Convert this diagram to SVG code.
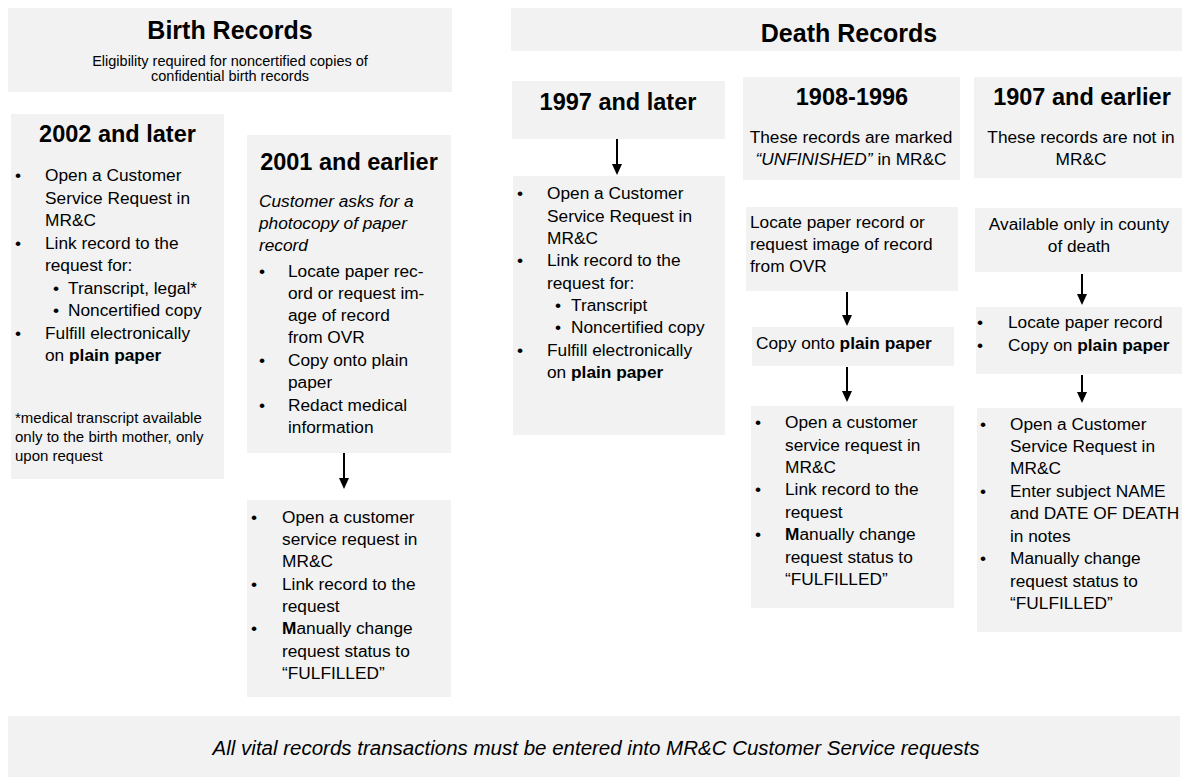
<svg xmlns="http://www.w3.org/2000/svg" width="1185" height="777" viewBox="0 0 1185 777">
<style>
  .box{fill:#f2f2f2;stroke:none}
  text{font-family:"Liberation Sans",Arial,sans-serif;fill:#000}
  .h1{font-size:25px;font-weight:bold;text-anchor:middle}
  .h2{font-size:23.5px;font-weight:bold;text-anchor:middle}
  .t{font-size:17.3px}
  .c{text-anchor:middle}
  .sub{font-size:14.5px;text-anchor:middle}
  .note{font-size:15px}
  .it{font-style:italic}
  .b{font-weight:bold}
  .foot{font-size:20.5px;font-style:italic;text-anchor:middle}
  .arrow{stroke:#000;stroke-width:2;fill:none;marker-end:url(#ah)}
</style>
<defs>
  <marker id="ah" markerUnits="userSpaceOnUse" markerWidth="11" markerHeight="10" refX="7" refY="5" orient="auto" viewBox="0 0 11 10">
    <path d="M0,0 L11,5 L0,10 Z" fill="#000"/>
  </marker>
</defs>
<rect width="1185" height="777" fill="#fff"/>

<g id="birth-header">
  <rect class="box" x="8" y="8" width="444" height="84"/>
  <text class="h1" x="230" y="39">Birth Records</text>
  <text class="sub" x="230" y="66">Eligibility required for noncertified copies of</text>
  <text class="sub" x="230" y="81">confidential birth records</text>
</g>

<g id="birth-2002">
  <rect class="box" x="11" y="114" width="213" height="365"/>
  <text class="h2" x="117.5" y="142">2002 and later</text>
  <g class="t">
    <text x="15" y="181">•</text><text x="45" y="181">Open a Customer</text>
    <text x="45" y="203.5">Service Request in</text>
    <text x="45" y="226">MR&amp;C</text>
    <text x="15" y="248.5">•</text><text x="45" y="248.5">Link record to the</text>
    <text x="45" y="271">request for:</text>
    <text x="53" y="293.5">•</text><text x="68" y="293.5">Transcript, legal*</text>
    <text x="53" y="316">•</text><text x="68" y="316">Noncertified copy</text>
    <text x="15" y="338.5">•</text><text x="45" y="338.5">Fulfill electronically</text>
    <text x="45" y="361">on <tspan class="b">plain paper</tspan></text>
  </g>
  <g class="note">
    <text x="15" y="423">*medical transcript available</text>
    <text x="15" y="442">only to the birth mother, only</text>
    <text x="15" y="461">upon request</text>
  </g>
</g>

<g id="birth-2001">
  <rect class="box" x="247" y="135" width="204" height="318"/>
  <text class="h2" x="349" y="170">2001 and earlier</text>
  <g class="t">
    <text class="it" x="259" y="207">Customer asks for a</text>
    <text class="it" x="259" y="229">photocopy of paper</text>
    <text class="it" x="259" y="251">record</text>
    <text x="259" y="277">•</text><text x="288" y="277">Locate paper rec-</text>
    <text x="288" y="299">ord or request im-</text>
    <text x="288" y="321">age of record</text>
    <text x="288" y="343">from OVR</text>
    <text x="259" y="366">•</text><text x="288" y="366">Copy onto plain</text>
    <text x="288" y="388">paper</text>
    <text x="259" y="411">•</text><text x="288" y="411">Redact medical</text>
    <text x="288" y="433">information</text>
  </g>
</g>

<g id="birth-2001-steps">
  <rect class="box" x="247" y="500" width="204" height="197"/>
  <g class="t">
    <text x="251" y="523">•</text><text x="282" y="523">Open a customer</text>
    <text x="282" y="545">service request in</text>
    <text x="282" y="567">MR&amp;C</text>
    <text x="251" y="589.5">•</text><text x="282" y="589.5">Link record to the</text>
    <text x="282" y="612">request</text>
    <text x="251" y="634">•</text><text x="282" y="634"><tspan class="b">M</tspan>anually change</text>
    <text x="282" y="656.5">request status to</text>
    <text x="282" y="679">“FULFILLED”</text>
  </g>
</g>

<g id="death-header">
  <rect class="box" x="511" y="8" width="671" height="43"/>
  <text class="h1" x="849" y="42">Death Records</text>
</g>

<g id="death-1997">
  <rect class="box" x="512" y="81" width="213" height="58"/>
  <text class="h2" x="618" y="110">1997 and later</text>
</g>

<g id="death-1997-steps">
  <rect class="box" x="513" y="176" width="212" height="259"/>
  <g class="t">
    <text x="517" y="199">•</text><text x="547" y="199">Open a Customer</text>
    <text x="547" y="221.5">Service Request in</text>
    <text x="547" y="244">MR&amp;C</text>
    <text x="517" y="266">•</text><text x="547" y="266">Link record to the</text>
    <text x="547" y="288.5">request for:</text>
    <text x="555" y="311">•</text><text x="571" y="311">Transcript</text>
    <text x="555" y="333">•</text><text x="571" y="333">Noncertified copy</text>
    <text x="517" y="355.5">•</text><text x="547" y="355.5">Fulfill electronically</text>
    <text x="547" y="378">on <tspan class="b">plain paper</tspan></text>
  </g>
</g>

<g id="death-1908">
  <rect class="box" x="743" y="77" width="217" height="103"/>
  <text class="h2" x="852" y="105">1908-1996</text>
  <text class="t c" x="851" y="143">These records are marked</text>
  <text class="t c" x="851" y="165"><tspan class="it">“UNFINISHED”</tspan> in MR&amp;C</text>
</g>

<g id="death-1908-locate">
  <rect class="box" x="746" y="207" width="212" height="84"/>
  <g class="t">
    <text x="750" y="228">Locate paper record or</text>
    <text x="750" y="250">request image of record</text>
    <text x="750" y="272">from OVR</text>
  </g>
</g>

<g id="death-1908-copy">
  <rect class="box" x="752" y="327" width="202" height="39"/>
  <text class="t" x="756" y="349">Copy onto <tspan class="b">plain paper</tspan></text>
</g>

<g id="death-1908-steps">
  <rect class="box" x="751" y="406" width="203" height="202"/>
  <g class="t">
    <text x="755" y="428">•</text><text x="785" y="428">Open a customer</text>
    <text x="785" y="450.5">service request in</text>
    <text x="785" y="473">MR&amp;C</text>
    <text x="755" y="495">•</text><text x="785" y="495">Link record to the</text>
    <text x="785" y="518">request</text>
    <text x="755" y="540">•</text><text x="785" y="540"><tspan class="b">M</tspan>anually change</text>
    <text x="785" y="563">request status to</text>
    <text x="785" y="585">“FULFILLED”</text>
  </g>
</g>

<g id="death-1907">
  <rect class="box" x="974" y="77" width="208" height="101"/>
  <text class="h2" x="1082" y="105">1907 and earlier</text>
  <text class="t c" x="1081" y="143">These records are not in</text>
  <text class="t c" x="1081" y="165">MR&amp;C</text>
</g>

<g id="death-1907-county">
  <rect class="box" x="975" y="208" width="207" height="64"/>
  <text class="t c" x="1079" y="230">Available only in county</text>
  <text class="t c" x="1079" y="252">of death</text>
</g>

<g id="death-1907-locate">
  <rect class="box" x="976" y="307" width="206" height="67"/>
  <g class="t">
    <text x="977" y="328">•</text><text x="1008" y="328">Locate paper record</text>
    <text x="977" y="351">•</text><text x="1008" y="351">Copy on <tspan class="b">plain paper</tspan></text>
  </g>
</g>

<g id="death-1907-steps">
  <rect class="box" x="977" y="408" width="205" height="224"/>
  <g class="t">
    <text x="980" y="430">•</text><text x="1010" y="430">Open a Customer</text>
    <text x="1010" y="452">Service Request in</text>
    <text x="1010" y="474">MR&amp;C</text>
    <text x="980" y="497">•</text><text x="1010" y="497">Enter subject NAME</text>
    <text x="1010" y="519">and DATE OF DEATH</text>
    <text x="1010" y="542">in notes</text>
    <text x="980" y="564">•</text><text x="1010" y="564">Manually change</text>
    <text x="1010" y="587">request status to</text>
    <text x="1010" y="609">“FULFILLED”</text>
  </g>
</g>

<g id="footer">
  <rect class="box" x="8" y="716" width="1172" height="61"/>
  <text class="foot" x="596" y="755">All vital records transactions must be entered into MR&amp;C Customer Service requests</text>
</g>

<g id="connectors">
  <path class="arrow" d="M344,453 V485"/>
  <path class="arrow" d="M617,139 V171"/>
  <path class="arrow" d="M847,292 V322"/>
  <path class="arrow" d="M847,367 V398"/>
  <path class="arrow" d="M1082,274 V301"/>
  <path class="arrow" d="M1082,375 V399"/>
</g>
</svg>
